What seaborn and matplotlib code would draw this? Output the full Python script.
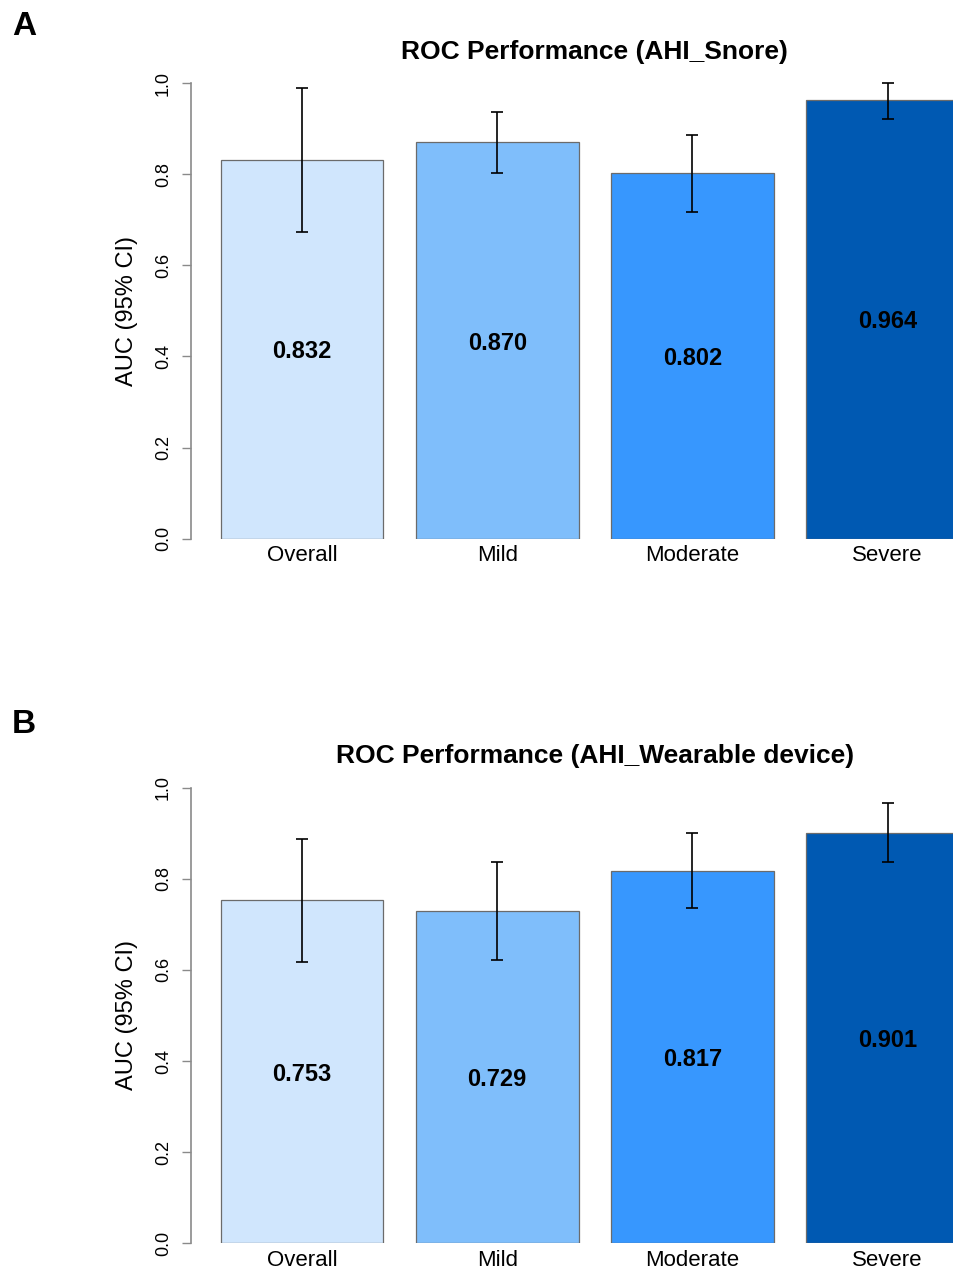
import numpy as np
import pandas as pd
import seaborn as sns
import matplotlib.pyplot as plt

categories = ['Overall', 'Mild', 'Moderate', 'Severe']
bar_colors = ['#D0E6FD', '#7FBEFB', '#3797FE', '#0059B2']

snore_auc = [0.832, 0.870, 0.802, 0.964]
snore_lo = [0.674, 0.803, 0.718, 0.922]
snore_hi = [0.990, 0.937, 0.887, 1.000]

wear_auc = [0.753, 0.729, 0.817, 0.901]
wear_lo = [0.618, 0.622, 0.735, 0.836]
wear_hi = [0.888, 0.836, 0.901, 0.966]

sns.set_style('white')
plt.rcParams['font.family'] = ['Liberation Sans', 'DejaVu Sans']
plt.rcParams['text.color'] = 'black'
plt.rcParams['axes.labelcolor'] = 'black'
plt.rcParams['xtick.color'] = 'black'
plt.rcParams['ytick.color'] = 'black'

fig = plt.figure(figsize=(9.54, 12.68), dpi=100)


def roc_panel(ax, auc, lo, hi, title):
    df = pd.DataFrame({'group': categories, 'auc': auc})
    sns.barplot(data=df, x='group', y='auc', hue='group', palette=bar_colors,
                order=categories, hue_order=categories, width=1 / 1.2,
                saturation=1, edgecolor='#6b6b6b', linewidth=0.9,
                legend=False, ax=ax)
    auc = np.array(auc)
    yerr = np.vstack([auc - np.array(lo), np.array(hi) - auc])
    ax.errorbar(np.arange(len(categories)), auc, yerr=yerr, fmt='none',
                ecolor='black', elinewidth=1.2, capsize=4.1, capthick=1.2)
    for i, v in enumerate(auc):
        ax.text(i, v / 2, f'{v:.3f}', ha='center', va='center_baseline',
                fontsize=17, fontweight='bold', color='black')

    ax.set_xlim(-0.570, 3.571)
    ax.set_ylim(0, 1.04)
    ax.set_yticks([0.0, 0.2, 0.4, 0.6, 0.8, 1.0])
    ax.set_yticklabels(['0.0', '0.2', '0.4', '0.6', '0.8', '1.0'])
    for s in ['top', 'right', 'bottom']:
        ax.spines[s].set_visible(False)
    ax.spines['left'].set_bounds(0, 1)
    ax.spines['left'].set_color('#8a8a8a')
    ax.spines['left'].set_linewidth(1.2)
    ax.tick_params(axis='y', length=6.5, width=1.0, color='#8a8a8a',
                   labelcolor='black', pad=7, labelsize=13,
                   labelrotation=90, left=True)
    for t in ax.get_yticklabels():
        t.set_va('center')
    ax.tick_params(axis='x', length=0, pad=4.5, labelsize=16, labelcolor='black')
    ax.set_xlabel('')
    ax.set_ylabel('AUC (95% CI)', fontsize=17, color='black')
    ax.yaxis.label.set_va('center')
    ax.yaxis.set_label_coords(-0.079, 0.5 / 1.04)
    ax.set_title(title, fontsize=19, fontweight='bold', pad=4.5, color='black')


ax_a = fig.add_axes([0.2000, 0.5752, 0.8472, 0.3735])
roc_panel(ax_a, snore_auc, snore_lo, snore_hi, 'ROC Performance (AHI_Snore)')

ax_b = fig.add_axes([0.2000, 0.01948, 0.8472, 0.3737])
roc_panel(ax_b, wear_auc, wear_lo, wear_hi, 'ROC Performance (AHI_Wearable device)')

fig.text(0.0126, 0.9724, 'A', fontsize=24, fontweight='bold', va='baseline')
fig.text(0.0126, 0.4217, 'B', fontsize=24, fontweight='bold', va='baseline')

fig.savefig('out.png', dpi=100)
